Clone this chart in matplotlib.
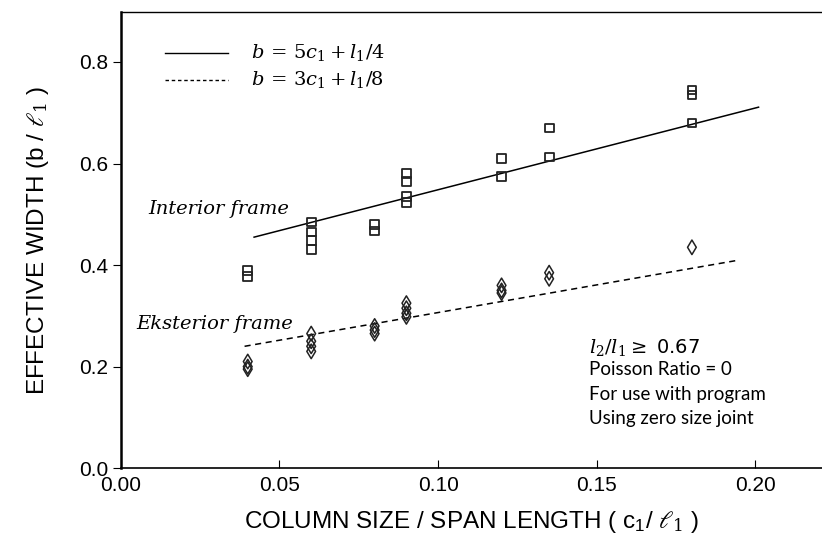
import numpy as np
import matplotlib.pyplot as plt

# interior frame (squares)
int_x = [0.04, 0.04, 0.06, 0.06, 0.06, 0.06, 0.08, 0.08,
         0.09, 0.09, 0.09, 0.09, 0.12, 0.12, 0.135, 0.135, 0.18, 0.18, 0.18]
int_y = [0.39, 0.378, 0.485, 0.465, 0.448, 0.43, 0.48, 0.467,
         0.58, 0.565, 0.535, 0.524, 0.61, 0.575, 0.67, 0.613, 0.745, 0.735, 0.68]

# exterior frame (diamonds)
ext_x = [0.04, 0.04, 0.04, 0.06, 0.06, 0.06, 0.06, 0.08, 0.08, 0.08,
         0.09, 0.09, 0.09, 0.09, 0.12, 0.12, 0.12, 0.135, 0.135, 0.18]
ext_y = [0.21, 0.2, 0.195, 0.265, 0.25, 0.24, 0.23, 0.28, 0.272, 0.265,
         0.325, 0.315, 0.305, 0.298, 0.36, 0.35, 0.345, 0.385, 0.373, 0.435]

# design lines (end points)
line_int_x = [0.042, 0.201]
line_int_y = [0.455, 0.711]
line_ext_x = [0.039, 0.195]
line_ext_y = [0.240, 0.410]

plt.rcParams['mathtext.fontset'] = 'dejavuserif'

fig = plt.figure(figsize=(8.22, 5.56), dpi=100)
ax = fig.add_axes([0.147, 0.158, 0.853, 0.82])

ax.plot(line_int_x, line_int_y, color='black', lw=1.1)
ax.plot(line_ext_x, line_ext_y, color='black', lw=1.1, ls=(0, (4, 3)))

ax.scatter(int_x, int_y, marker='s', s=40, facecolors='none', edgecolors='#222222', linewidths=1.3, zorder=3)
ax.scatter(ext_x, ext_y, marker='d', s=55, facecolors='none', edgecolors='#222222', linewidths=1.1, zorder=3)

ax.set_xlim(0, 0.221)
ax.set_ylim(0, 0.898)
ax.set_xticks([0.0, 0.05, 0.10, 0.15, 0.20])
ax.set_xticklabels(['0.00', '0.05', '0.10', '0.15', '0.20'])
ax.set_yticks([0.0, 0.2, 0.4, 0.6, 0.8])
ax.set_yticklabels(['0.0', '0.2', '0.4', '0.6', '0.8'])

sans = 'Liberation Sans'
for t in ax.get_xticklabels() + ax.get_yticklabels():
    t.set_fontfamily(sans)
    t.set_fontsize(15)

ax.tick_params(axis='x', direction='in', length=6, pad=6)
ax.tick_params(axis='y', direction='out', length=6, pad=3)
ax.spines['right'].set_visible(False)
ax.spines['left'].set_linewidth(1.8)
ax.spines['bottom'].set_linewidth(1.2)
ax.spines['top'].set_linewidth(1.0)

lab_font = dict(family=sans, size=17.5)
ax.set_xlabel(r'COLUMN SIZE / SPAN LENGTH ( c$_\mathregular{1}$/ $\ell_1$ )', fontdict=lab_font, labelpad=10)
ax.set_ylabel(r'EFFECTIVE WIDTH (b / $\ell_1$ )', fontdict=lab_font, labelpad=20)

# legend drawn by hand like the original
ax.plot([0.0139, 0.0338], [0.818, 0.818], color='black', lw=1.0)
ax.plot([0.0139, 0.0338], [0.765, 0.765], color='black', lw=1.0, ls=(0, (2.5, 2)))
ax.text(0.041, 0.818, r'$b\,=\,5c_1 + l_1/4$', fontsize=14, va='center')
ax.text(0.041, 0.765, r'$b\,=\,3c_1 + l_1/8$', fontsize=14, va='center')

ax.text(0.0085, 0.51, 'Interior frame', fontsize=14, family='DejaVu Serif', style='italic', va='center')
ax.text(0.005, 0.283, 'Eksterior frame', fontsize=14, family='DejaVu Serif', style='italic', va='center')

ax.text(0.1475, 0.238, r'$l_2/l_1 \geq$ 0.67', fontsize=14, va='center')
notes = ['Poisson Ratio = 0', 'For use with program', 'Using zero size joint']
for i, s in enumerate(notes):
    ax.text(0.1475, 0.195 - i * 0.049, s, fontsize=13.5, family='Lato', va='center')

fig.savefig('out.png', dpi=100)
